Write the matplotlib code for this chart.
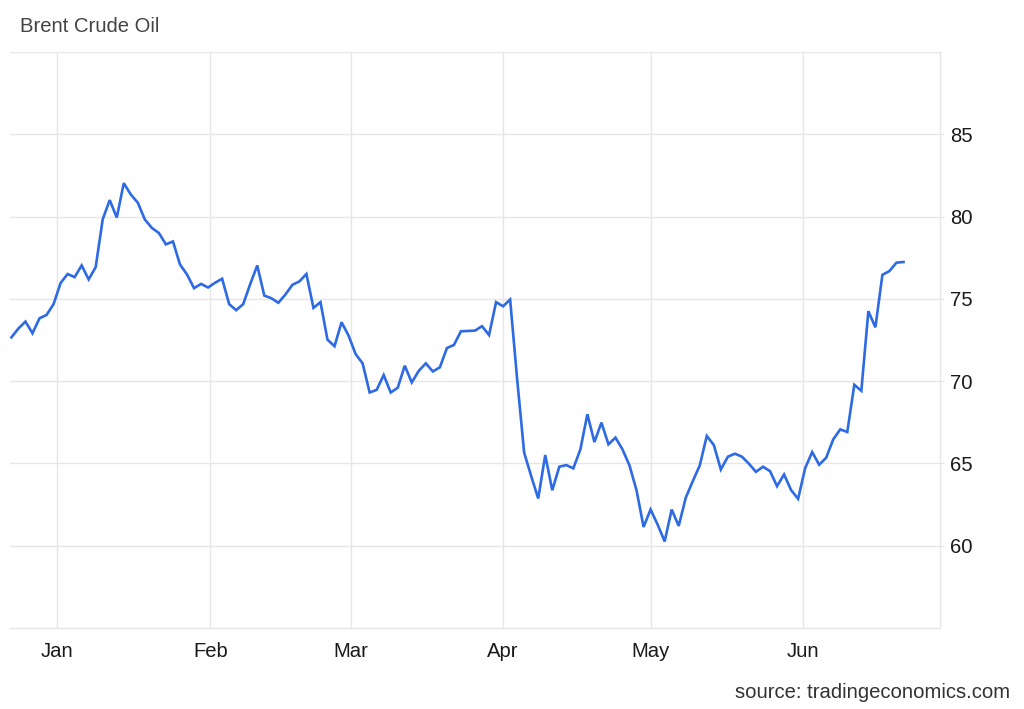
import numpy as np
import pandas as pd
import matplotlib
matplotlib.use("Agg")
import matplotlib.pyplot as plt

plt.rcParams['font.family'] = ['Liberation Sans', 'DejaVu Sans']

# Brent daily closes, USD/bbl (one value per trading day)
values = [
    72.66, 73.20, 73.62, 72.91, 73.82, 74.02, 74.68, 75.96, 76.51, 76.32,
    77.03, 76.18, 76.93, 79.84, 81.00, 79.94, 82.03, 81.34, 80.84, 79.82,
    79.31, 79.00, 78.31, 78.49, 77.09, 76.48, 75.65, 75.91, 75.69, 75.98,
    76.22, 74.68, 74.31, 74.68, 75.90, 77.03, 75.20, 75.04, 74.76, 75.26,
    75.85, 76.06, 76.51, 74.45, 74.80, 72.52, 72.12, 73.58, 72.77, 71.65,
    71.08, 69.31, 69.47, 70.37, 69.31, 69.60, 70.94, 69.92, 70.63, 71.08,
    70.59, 70.84, 72.01, 72.20, 73.03, 73.05, 73.07, 73.34, 72.80, 74.80,
    74.55, 74.96, 70.12, 65.65, 64.23, 62.87, 65.51, 63.37, 64.80, 64.90,
    64.70, 65.85, 67.99, 66.30, 67.48, 66.16, 66.57, 65.85, 64.87, 63.36,
    61.14, 62.20, 61.28, 60.26, 62.20, 61.20, 62.91, 63.92, 64.88, 66.67,
    66.12, 64.63, 65.41, 65.59, 65.41, 64.98, 64.49, 64.80, 64.53, 63.62,
    64.33, 63.38, 62.85, 64.71, 65.69, 64.92, 65.35, 66.46, 67.07, 66.91,
    69.78, 69.41, 74.25, 73.27, 76.46, 76.69, 77.20, 77.24,
]

holidays = ['2024-12-25', '2025-01-01', '2025-04-18']
dates = pd.bdate_range('2024-12-20', '2025-06-20').drop(pd.to_datetime(holidays))

month_starts = pd.to_datetime(['2025-01-01', '2025-02-01', '2025-03-01',
                               '2025-04-01', '2025-05-01', '2025-06-01'])
month_labels = ['Jan', 'Feb', 'Mar', 'Apr', 'May', 'Jun']

y_ticks = [60, 65, 70, 75, 80, 85]

# points are spaced evenly per trading day
x = np.arange(len(values))
tick_pos = np.interp(month_starts.asi8, dates.asi8, np.arange(len(dates)))

fig = plt.figure(figsize=(10.24, 7.09), dpi=100)
ax = fig.add_axes([10 / 1024, 1 - 628 / 709, 930 / 1024, 576 / 709])

grid_c = '#e6e6e6'
ax.plot(x, values, color='#2d6ae3', lw=1.9, solid_joinstyle='miter', zorder=3)

ax.set_xlim(-0.2, 132.2)
ax.set_ylim(55, 90)

ax.set_xticks(tick_pos)
ax.set_xticklabels(month_labels)
ax.set_yticks(y_ticks)
ax.yaxis.tick_right()

for yv in y_ticks + [90]:
    ax.axhline(yv, color=grid_c, lw=1, zorder=1)
for xv in tick_pos:
    ax.axvline(xv, color=grid_c, lw=1, zorder=1)

for side in ['top', 'left']:
    ax.spines[side].set_visible(False)
for side in ['right', 'bottom']:
    ax.spines[side].set_color(grid_c)
    ax.spines[side].set_linewidth(1)

ax.tick_params(axis='y', length=3, color=grid_c, pad=4, labelsize=14.6, labelcolor='#1a1a1a')
ax.tick_params(axis='x', length=0, pad=10, labelsize=14.6, labelcolor='#1a1a1a')

fig.text(20 / 1024, 1 - 27 / 709, 'Brent Crude Oil', fontsize=14.6, color='#444444',
         ha='left', va='center')
fig.text(1010 / 1024, 1 - 692 / 709, 'source: tradingeconomics.com', fontsize=14.6,
         color='#333333', ha='right', va='center')

fig.savefig('out.png', dpi=100)
